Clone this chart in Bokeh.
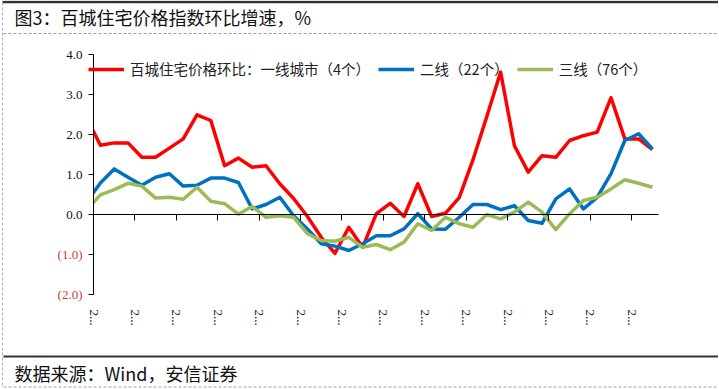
import math
from bokeh.plotting import figure
from bokeh.models import (LinearAxis, FixedTicker, Range1d, Legend, LegendItem,
                          Label, Arrow)
from bokeh.embed import file_html
from bokeh.resources import INLINE

# ---------------- data ----------------
months = list(range(42))  # monthly observations (index)

tier1 = [2.42, 1.73, 1.79, 1.79, 1.43, 1.43, 1.66, 1.89, 2.49, 2.35,
         1.22, 1.41, 1.18, 1.22, 0.77, 0.40, -0.05, -0.57, -0.97, -0.32,
         -0.82, 0.02, 0.28, -0.05, 0.77, -0.05, 0.03, 0.42, 1.37, 2.45,
         3.56, 1.72, 1.06, 1.47, 1.43, 1.85, 1.97, 2.06, 2.92, 1.89,
         1.89, 1.62]
tier2 = [0.31, 0.79, 1.14, 0.93, 0.73, 0.93, 1.02, 0.71, 0.73, 0.91,
         0.91, 0.80, 0.14, 0.25, 0.43, -0.03, -0.36, -0.73, -0.79, -0.90,
         -0.73, -0.53, -0.53, -0.36, 0.02, -0.36, -0.37, -0.07, 0.25, 0.25,
         0.12, 0.22, -0.15, -0.22, 0.39, 0.64, 0.14, 0.43, 1.02, 1.85,
         2.02, 1.64]
tier3 = [0.11, 0.49, 0.62, 0.78, 0.71, 0.41, 0.43, 0.38, 0.68, 0.33,
         0.27, 0.01, 0.20, -0.07, -0.03, -0.07, -0.48, -0.65, -0.67, -0.57,
         -0.82, -0.75, -0.88, -0.69, -0.23, -0.40, -0.07, -0.23, -0.32, 0.00,
         -0.11, 0.06, 0.31, 0.06, -0.38, 0.02, 0.35, 0.43, 0.64, 0.87,
         0.78, 0.68]

series_names = ["百城住宅价格环比：一线城市（4个）", "二线（22个）", "三线（76个）"]
y_ticks = [-2, -1, 0, 1, 2, 3, 4]
y_tick_labels = ["(2.0)", "(1.0)", "0.0", "1.0", "2.0", "3.0", "4.0"]
x_tick_labels = ["2..."] * 14

title_text = "图3：百城住宅价格指数环比增速，%"
source_text = "数据来源：Wind，安信证券"

# ---------------- geometry ----------------
W, H = 718, 388
X0, X1 = 0.5, 41.44          # visible category-axis range
Y0, Y1 = -2.0, 4.0           # value-axis range
AX_L, AX_R = 93.0, 658.0     # plot-area pixel box
AX_T, AX_B = 54.0, 294.0
PX = (AX_R - AX_L) / (X1 - X0)
PY = (AX_B - AX_T) / (Y1 - Y0)
x_ticks = [X0 + 3 * k for k in range(len(x_tick_labels))]


def gx(px):  # page pixel -> data x
    return X0 + (px - AX_L) / PX


def gy(py):  # page pixel -> data y
    return Y1 - (py - AX_T) / PY


p = figure(width=W, height=H, min_border=0,
           x_range=Range1d(gx(0), gx(W)), y_range=Range1d(gy(H), gy(0)),
           x_axis_location=None, y_axis_location=None,
           output_backend="svg", toolbar_location=None)
p.xgrid.visible = False
p.ygrid.visible = False
p.outline_line_color = None
p.background_fill_color = "white"
p.border_fill_color = "white"

# lines
r1 = p.line(months, tier1, line_color="#FF0000", line_width=3.5, line_join="round")
r2 = p.line(months, tier2, line_color="#0070C0", line_width=3.5, line_join="round")
r3 = p.line(months, tier3, line_color="#9BBB59", line_width=3.5, line_join="round")

# plot-area clip on the left of the value axis (first month lies before the axis start)
p.quad(left=gx(0), right=X0, bottom=Y0, top=Y1, fill_color="white", line_color=None)

# value axis
ya = LinearAxis(fixed_location=X0, bounds=(Y0, Y1), ticker=FixedTicker(ticks=y_ticks))
ya.major_label_overrides = {t: (lab if t >= 0 else "") for t, lab in zip(y_ticks, y_tick_labels)}
ya.major_label_text_font = "Liberation Serif"
ya.major_label_text_font_size = "13px"
ya.major_label_text_color = "#111111"
ya.major_label_standoff = 6
ya.major_tick_in = 0
ya.major_tick_out = 5
ya.minor_tick_line_color = None
ya.axis_line_color = "black"
ya.major_tick_line_color = "black"
p.add_layout(ya, "left")

for t, lab in zip(y_ticks, y_tick_labels):
    if t < 0:
        p.add_layout(Label(x=gx(82), y=t, text=lab, text_align="right",
                           text_baseline="middle", text_font="Liberation Serif",
                           text_font_size="13px", text_color="#D03A3A"))

# category labels at the bottom of the plot area (labels only)
xa = LinearAxis(fixed_location=Y0, bounds=(X0, X1), ticker=FixedTicker(ticks=x_ticks))
xa.major_label_overrides = {t: lab for t, lab in zip(x_ticks, x_tick_labels)}
xa.major_label_orientation = -math.pi / 2
xa.major_label_text_font = "Liberation Serif"
xa.major_label_text_font_size = "13px"
xa.major_label_text_color = "#222222"
xa.major_label_standoff = 9
xa.axis_line_color = None
xa.major_tick_line_color = None
xa.minor_tick_line_color = None
p.add_layout(xa, "below")

# category axis line crossing at zero
zero_axis = LinearAxis(fixed_location=0, bounds=(X0, X1), ticker=FixedTicker(ticks=x_ticks),
                       major_tick_in=0, major_tick_out=6,
                       minor_tick_line_color=None,
                       major_label_text_alpha=0, major_label_text_font_size="1px",
                       axis_line_color="black", major_tick_line_color="black")
p.add_layout(zero_axis, "below")

# legend
legend = Legend(items=[LegendItem(label=series_names[0], renderers=[r1]),
                       LegendItem(label=series_names[1], renderers=[r2]),
                       LegendItem(label=series_names[2], renderers=[r3])],
                orientation="horizontal", location=(88, H - 79),
                glyph_width=36, glyph_height=18, label_height=18,
                label_standoff=6, spacing=8, padding=0, margin=0,
                label_text_font="Noto Sans CJK SC", label_text_font_size="14.5px",
                label_text_color="#222222",
                background_fill_alpha=0, border_line_color=None)
p.add_layout(legend)

# title, source and frame decorations
p.add_layout(Label(x=gx(14), y=gy(16.5), text=title_text, text_align="left",
                   text_baseline="middle", text_font="Noto Sans CJK SC",
                   text_font_size="18px", text_color="#111111"))
p.add_layout(Label(x=gx(14), y=gy(372), text=source_text, text_align="left",
                   text_baseline="middle", text_font="Noto Sans CJK SC",
                   text_font_size="18px", text_color="#111111"))
p.add_layout(Arrow(end=None, x_start=gx(2), y_start=gy(1.5), x_end=gx(W), y_end=gy(1.5),
                   line_color="#333333", line_width=2.5))
p.add_layout(Arrow(end=None, x_start=gx(2), y_start=gy(2), x_end=gx(2), y_end=gy(387),
                   line_color="#B0B0B0", line_width=1, line_dash="3 2"))
p.add_layout(Arrow(end=None, x_start=gx(3), y_start=gy(33), x_end=gx(W), y_end=gy(33),
                   line_color="#A0A0A0", line_width=1, line_dash="3 2"))
p.add_layout(Arrow(end=None, x_start=gx(3), y_start=gy(356), x_end=gx(W), y_end=gy(356),
                   line_color="#333333", line_width=2))
p.add_layout(Arrow(end=None, x_start=gx(3), y_start=gy(386.5), x_end=gx(W), y_end=gy(386.5),
                   line_color="#A0A0A0", line_width=1, line_dash="3 2"))

open("out.html", "w").write(file_html(p, INLINE))
